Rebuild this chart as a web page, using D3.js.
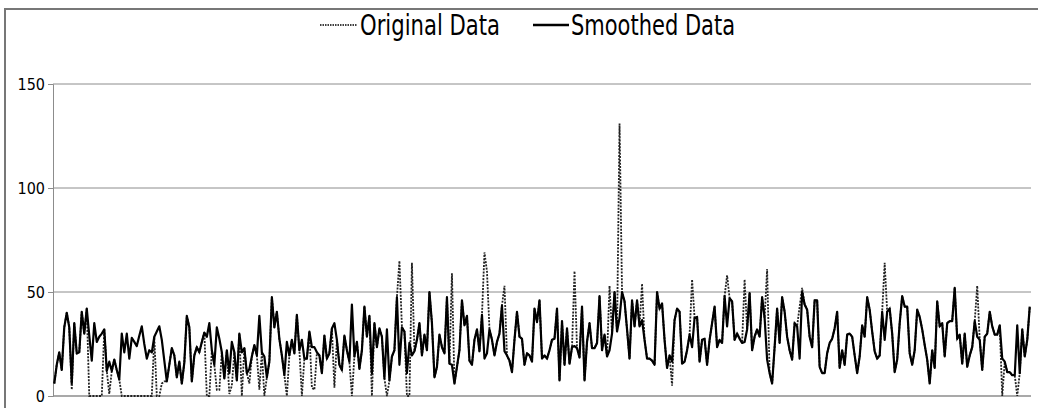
<!DOCTYPE html>
<html>
<head>
<meta charset="utf-8">
<script src="https://cdn.jsdelivr.net/npm/d3@7"></script>
<style>
  body { margin: 0; background: #fff; }
  svg { display: block; }
</style>
</head>
<body>
<svg id="chart" width="1038" height="408"></svg>
<script>
// series names + y ticks
const seriesNames = ["Original Data", "Smoothed Data"];
const yTicks = [0, 50, 100, 150];

// smoothed series (391 points)
const smoothed = [
  6, 15, 21, 12.5, 33, 40, 33, 6, 35, 20.5,
  21, 40.5, 30, 42, 29, 17, 35, 26, 28.5, 30,
  32, 12, 16.5, 12, 17.5, 12.5, 8, 30, 21, 30,
  18, 28, 26, 24, 29, 33.5, 25, 18, 22, 21,
  28.5, 31, 33.5, 27, 17, 7, 15, 23,
  19.5, 9, 16.5, 6, 16, 38.5, 33, 7, 19.5, 23.5,
  21, 26, 30.5, 28.5, 35, 22, 15, 33, 27.5, 21,
  8.5, 22, 11, 26, 21, 7.5, 30, 21, 23, 11,
  13, 19, 24.5, 19.5, 38.5, 21, 19, 9, 16.5, 47.5,
  33, 40.5, 27.5, 19.5, 10, 26, 19.5, 27,
  20.5, 39, 22, 27, 18, 18, 31, 23.5, 23.5, 21,
  19.5, 11, 29, 18, 20.5, 32.5, 35, 27, 15, 12.5,
  29, 22, 16.5, 44, 19, 26, 13, 22, 43, 28.5,
  38.5, 11, 35, 23.5, 32.5, 28.5, 8.5, 32, 7.5, 19,
  22, 47.5, 15, 33, 31, 11, 25.5, 19.5,
  21.5, 27, 35, 19.5, 29.5, 22, 50, 35, 9, 14,
  29.5, 23.5, 20.5, 47.5, 15.5, 15, 6, 14, 22, 46,
  34, 38.5, 17, 15, 27, 32, 21.5, 39, 18, 20.5,
  32, 27, 19.5, 26, 30, 43.5, 21.5, 19.5, 17, 11.5,
  27, 40.5, 28.5, 27.5, 15, 20.5, 19.5, 16.5,
  42, 35.5, 46, 18, 19.5, 18, 22, 27, 27.5, 42,
  7.5, 36, 15, 32.5, 15.5, 23.5, 24, 23, 18.5, 43,
  7.5, 26, 35, 23, 23, 25.5, 48, 22, 29.5, 19,
  22, 30, 50, 31, 37.5, 50, 45.5, 32, 18, 46,
  33.5, 46, 33.5, 36.5, 27, 18, 18, 17,
  15, 50, 42, 44.5, 27, 13.5, 19.5, 16.5, 36.5, 42,
  40.5, 15.5, 16.5, 22, 29.5, 23.5, 37.5, 38, 16.5, 27,
  27.5, 15, 27, 35, 43, 23.5, 27, 25.5, 48, 33.5,
  47, 45.5, 27, 30, 27.5, 25.5, 26, 32, 49.5, 22,
  28.5, 32, 28.5, 47.5, 37.5, 17.5, 11, 6,
  23.5, 42, 25.5, 47.5, 40.5, 28.5, 22, 17.5, 35, 33.5,
  18, 50, 44, 41.5, 28.5, 23.5, 46, 46, 14, 11,
  11, 20.5, 25.5, 27.5, 32.5, 40.5, 13.5, 22, 15, 29.5,
  30, 28.5, 19.5, 11, 19, 34, 28.5, 47.5, 41.5, 31,
  21.5, 18, 19.5, 40.5, 27, 40.5, 42, 30,
  11.5, 17.5, 35, 48, 43, 43, 20.5, 15, 22, 41.5,
  38, 32, 24.5, 17.5, 6, 22, 13.5, 45.5, 33.5, 35,
  19, 35, 36, 36, 52, 27.5, 29.5, 15.5, 30, 14,
  19.5, 23.5, 36, 28.5, 27, 12.5, 28.5, 30, 40.5, 33.5,
  29.5, 29.5, 34, 18, 16.5, 11.5, 11.5, 10, 10, 34,
  11, 32, 19, 27, 43
];

// original series (gaps at 0 and spikes)
const original = [
  6, 15, 21, 12.5, 33, 40, 33, 3, 35, 20.5,
  21, 40.5, 30, 42, 0, 0, 0, 0, 0, 0,
  32, 12, 1, 12, 17.5, 12.5, 8, 0, 0, 0,
  0, 0, 0, 0, 0, 0, 0, 0, 0, 0,
  28.5, 0, 0, 6, 7, 7, 15, 23,
  19.5, 9, 16.5, 6, 16, 38.5, 33, 7, 19.5, 23.5,
  21, 26, 30.5, 0, 0, 22, 15, 3, 3, 21,
  8.5, 22, 1, 5, 21, 7.5, 30, 0, 23, 11,
  6, 19, 24.5, 19.5, 3, 21, 0, 9, 16.5, 47.5,
  33, 40.5, 27.5, 19.5, 10, 0, 19.5, 27,
  20.5, 39, 22, 0, 18, 18, 31, 4, 3, 21,
  19.5, 11, 29, 18, 20.5, 32.5, 4, 27, 15, 12.5,
  29, 22, 16.5, 0, 19, 26, 13, 22, 43, 28.5,
  38.5, 0, 35, 23.5, 32.5, 28.5, 8.5, 0, 7.5, 19,
  22, 47.5, 65, 33, 31, 0, 0, 64,
  21.5, 27, 35, 19.5, 29.5, 22, 50, 35, 9, 14,
  29.5, 23.5, 20.5, 47.5, 15.5, 59, 6, 14, 22, 46,
  34, 38.5, 17, 15, 27, 32, 21.5, 39, 69, 60,
  32, 27, 19.5, 26, 30, 43.5, 53, 19.5, 17, 11.5,
  27, 40.5, 28.5, 27.5, 15, 20.5, 19.5, 16.5,
  42, 35.5, 46, 18, 19.5, 18, 22, 27, 27.5, 42,
  7.5, 36, 15, 32.5, 15.5, 23.5, 60, 23, 18.5, 43,
  7.5, 26, 35, 23, 23, 25.5, 48, 22, 29.5, 19,
  53, 30, 50, 31, 131, 50, 45.5, 32, 18, 46,
  33.5, 46, 33.5, 54, 27, 18, 18, 17,
  15, 50, 42, 44.5, 27, 13.5, 19.5, 5, 36.5, 42,
  40.5, 15.5, 16.5, 22, 29.5, 56, 37.5, 38, 16.5, 27,
  27.5, 15, 27, 35, 43, 23.5, 27, 25.5, 48, 58,
  47, 45.5, 27, 30, 27.5, 25.5, 56, 32, 49.5, 22,
  28.5, 32, 28.5, 47.5, 37.5, 61, 11, 6,
  23.5, 42, 25.5, 47.5, 40.5, 28.5, 22, 17.5, 35, 33.5,
  43, 52, 44, 41.5, 28.5, 23.5, 46, 46, 14, 11,
  11, 20.5, 25.5, 27.5, 32.5, 40.5, 13.5, 22, 15, 29.5,
  30, 28.5, 19.5, 11, 19, 34, 28.5, 47.5, 41.5, 31,
  21.5, 18, 19.5, 40.5, 64, 40.5, 42, 30,
  11.5, 17.5, 35, 48, 43, 43, 20.5, 15, 22, 41.5,
  38, 32, 24.5, 17.5, 6, 22, 13.5, 45.5, 33.5, 35,
  19, 35, 36, 36, 52, 27.5, 29.5, 15.5, 30, 14,
  19.5, 23.5, 36, 53, 27, 12.5, 28.5, 30, 40.5, 33.5,
  29.5, 29.5, 34, 0, 16.5, 11.5, 11.5, 10, 10, 0,
  11, 32, 19, 27, 43
];

const font = "'Liberation Sans Narrow', 'DejaVu Sans Condensed', sans-serif";
const svg = d3.select("#chart");

// outer frame
svg.append("rect")
  .attr("x", 5).attr("y", 9)
  .attr("width", 1040).attr("height", 420)
  .attr("fill", "none")
  .attr("stroke", "#777")
  .attr("stroke-width", 2);

const plotLeft = 53, plotRight = 1031, plotTop = 84, plotBottom = 396;

const x = d3.scalePoint()
  .domain(d3.range(smoothed.length))
  .range([plotLeft, plotRight])
  .padding(0.5);

const y = d3.scaleLinear().domain([0, 150]).range([plotBottom, plotTop]);

// gridlines
svg.append("g")
  .selectAll("line")
  .data(yTicks.filter(d => d > 0))
  .join("line")
  .attr("x1", plotLeft).attr("x2", plotRight)
  .attr("y1", d => y(d)).attr("y2", d => y(d))
  .attr("stroke", "#8c8c8c")
  .attr("stroke-width", 1);

// y axis
const yAxis = svg.append("g")
  .attr("transform", `translate(${plotLeft},0)`)
  .call(d3.axisLeft(y).tickValues(yTicks).tickSize(5).tickPadding(3));
yAxis.select(".domain").attr("stroke", "#8c8c8c");
yAxis.selectAll(".tick line").attr("stroke", "#8c8c8c");
yAxis.selectAll(".tick text")
  .attr("font-family", font)
  .attr("font-size", 16)
  .attr("fill", "#000");

// x axis line
svg.append("line")
  .attr("x1", plotLeft).attr("x2", plotRight)
  .attr("y1", plotBottom).attr("y2", plotBottom)
  .attr("stroke", "#8c8c8c")
  .attr("stroke-width", 1.5);

const line = d3.line()
  .x((d, i) => x(i))
  .y(d => y(d));

svg.append("path")
  .datum(original)
  .attr("d", line)
  .attr("fill", "none")
  .attr("stroke", "#222")
  .attr("stroke-width", 1.8)
  .attr("stroke-dasharray", "2,1.3");

svg.append("path")
  .datum(smoothed)
  .attr("d", line)
  .attr("fill", "none")
  .attr("stroke", "#000")
  .attr("stroke-width", 2.2)
  .attr("stroke-linejoin", "round");

// legend
const legend = [
  { name: seriesNames[0], x1: 320, x2: 357, tx: 360, w: 140, dash: "1.5,1" },
  { name: seriesNames[1], x1: 533, x2: 569, tx: 571, w: 164, dash: null }
];
const lg = svg.append("g");
legend.forEach(l => {
  lg.append("line")
    .attr("x1", l.x1).attr("x2", l.x2)
    .attr("y1", 25).attr("y2", 25)
    .attr("stroke", "#000")
    .attr("stroke-width", l.dash ? 1.5 : 2.5)
    .attr("stroke-dasharray", l.dash);
  lg.append("text")
    .attr("x", l.tx).attr("y", 35)
    .attr("font-family", font)
    .attr("font-size", 29)
    .attr("textLength", l.w)
    .attr("lengthAdjust", "spacingAndGlyphs")
    .text(l.name);
});
</script>
</body>
</html>
